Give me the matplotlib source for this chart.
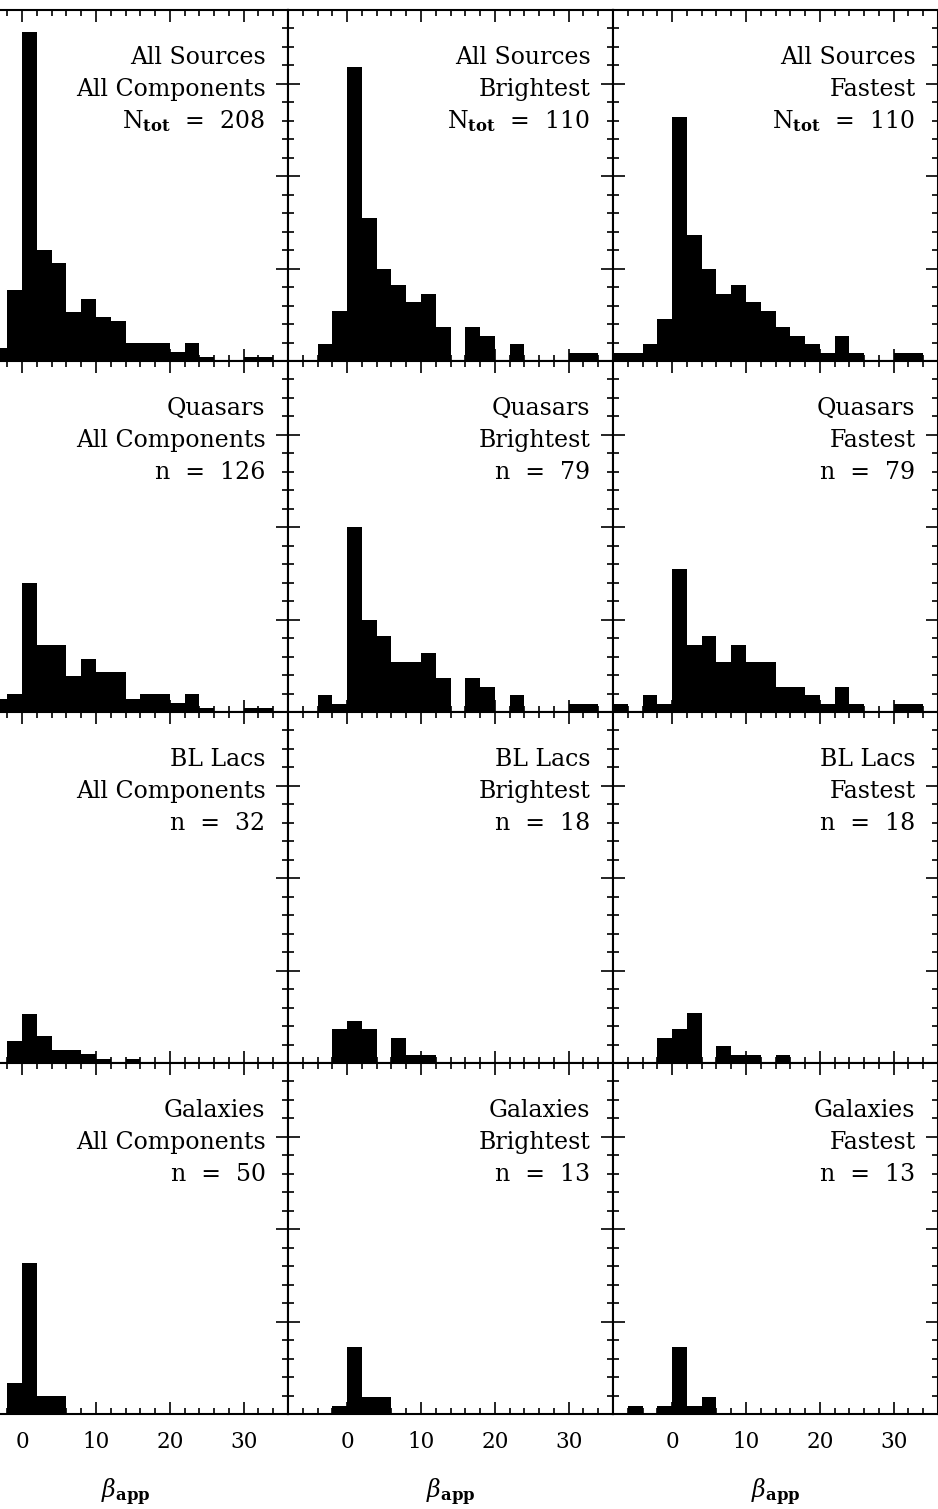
import numpy as np
import matplotlib
matplotlib.use("Agg")
import matplotlib.pyplot as plt
from matplotlib.ticker import MultipleLocator

# ---------------- data ----------------
# bin edges of beta_app histograms (width 2, from -8 to 36)
bin_edges = list(range(-8, 37, 2))

# counts per bin (22 bins: [-8,-6], [-6,-4], ..., [34,36])
all_comp     = [1, 2, 3, 16, 74, 25, 22, 11, 14, 10, 9, 4, 4, 4, 2, 4, 1, 0, 0, 1, 1, 0]
all_bright   = [0, 0, 2, 6, 35, 17, 11, 9, 7, 8, 4, 0, 4, 3, 0, 2, 0, 0, 0, 1, 1, 0]
all_fast     = [1, 1, 2, 5, 29, 15, 11, 8, 9, 7, 6, 4, 3, 2, 1, 3, 1, 0, 0, 1, 1, 0]

qso_comp     = [1, 1, 3, 4, 29, 15, 15, 8, 12, 9, 9, 3, 4, 4, 2, 4, 1, 0, 0, 1, 1, 0]
qso_bright   = [0, 0, 2, 1, 22, 11, 9, 6, 6, 7, 4, 0, 4, 3, 0, 2, 0, 0, 0, 1, 1, 0]
qso_fast     = [1, 0, 2, 1, 17, 8, 9, 6, 8, 6, 6, 3, 3, 2, 1, 3, 1, 0, 0, 1, 1, 0]

bll_comp     = [0, 0, 0, 5, 11, 6, 3, 3, 2, 1, 0, 1, 0, 0, 0, 0, 0, 0, 0, 0, 0, 0]
bll_bright   = [0, 0, 0, 4, 5, 4, 0, 3, 1, 1, 0, 0, 0, 0, 0, 0, 0, 0, 0, 0, 0, 0]
bll_fast     = [0, 0, 0, 3, 4, 6, 0, 2, 1, 1, 0, 1, 0, 0, 0, 0, 0, 0, 0, 0, 0, 0]

gal_comp     = [0, 1, 0, 7, 34, 4, 4, 0, 0, 0, 0, 0, 0, 0, 0, 0, 0, 0, 0, 0, 0, 0]
gal_bright   = [0, 0, 0, 1, 8, 2, 2, 0, 0, 0, 0, 0, 0, 0, 0, 0, 0, 0, 0, 0, 0, 0]
gal_fast     = [0, 1, 0, 1, 8, 1, 2, 0, 0, 0, 0, 0, 0, 0, 0, 0, 0, 0, 0, 0, 0, 0]

# column normalisation (N_tot per column)
col_ntot = [208, 110, 110]
col_names = ["All Components", "Brightest", "Fastest"]
row_names = ["All Sources", "Quasars", "BL Lacs", "Galaxies"]
count_labels = [["N$_{\\mathbf{tot}}$  =  208", "N$_{\\mathbf{tot}}$  =  110", "N$_{\\mathbf{tot}}$  =  110"],
                ["n  =  126", "n  =  79", "n  =  79"],
                ["n  =  32", "n  =  18", "n  =  18"],
                ["n  =  50", "n  =  13", "n  =  13"]]
panel_counts = [[all_comp, all_bright, all_fast],
                [qso_comp, qso_bright, qso_fast],
                [bll_comp, bll_bright, bll_fast],
                [gal_comp, gal_bright, gal_fast]]
xticks = [0, 10, 20, 30]

# ---------------- figure ----------------
plt.rcParams['font.family'] = ['DejaVu Serif']
plt.rcParams['mathtext.fontset'] = 'dejavuserif'

W, H = 938, 1509
fig = plt.figure(figsize=(W / 100, H / 100), dpi=100)

col_left_px = [-37, 288, 613]
col_w_px = 325
row_top_px = [10, 361, 712, 1063]
row_h_px = 351

edges = np.array(bin_edges, dtype=float)
for r in range(4):
    for c in range(3):
        left = col_left_px[c] / W
        bottom = 1 - (row_top_px[r] + row_h_px) / H
        ax = fig.add_axes([left, bottom, col_w_px / W, row_h_px / H])
        frac = np.array(panel_counts[r][c], dtype=float) / col_ntot[c]
        ax.bar(edges[:-1], frac, width=2, align='edge', color='black', linewidth=0)
        ax.set_xlim(-8, 36)
        ax.set_ylim(0, 0.38)
        ax.xaxis.set_major_locator(MultipleLocator(10))
        ax.xaxis.set_minor_locator(MultipleLocator(2))
        ax.yaxis.set_major_locator(MultipleLocator(0.1))
        ax.yaxis.set_minor_locator(MultipleLocator(0.02))
        ax.tick_params(which='both', direction='in', top=True, right=True,
                       labelleft=False, width=1.2, color='black')
        ax.tick_params(which='major', length=8.5)
        ax.tick_params(which='minor', length=4.3)
        for s in ax.spines.values():
            s.set_linewidth(1.5)
        if r == 3:
            ax.set_xticks(xticks)
            ax.set_xticklabels([str(t) for t in xticks], fontsize=15.5)
            ax.tick_params(axis='x', pad=12)
            ax.set_xlabel(r"$\beta_{\mathbf{app}}$", fontsize=17, labelpad=17)
        else:
            ax.tick_params(axis='x', labelbottom=False)
        xr = 1 - 22.5 / col_w_px
        y0 = 1 - 54 / row_h_px
        dy = 32 / row_h_px
        ax.text(xr, y0, row_names[r], transform=ax.transAxes, ha='right',
                va='baseline', fontsize=17)
        ax.text(xr, y0 - dy, col_names[c], transform=ax.transAxes, ha='right',
                va='baseline', fontsize=17)
        ax.text(xr, y0 - 2 * dy, count_labels[r][c], transform=ax.transAxes,
                ha='right', va='baseline', fontsize=17)

fig.savefig("out.png", dpi=100)
